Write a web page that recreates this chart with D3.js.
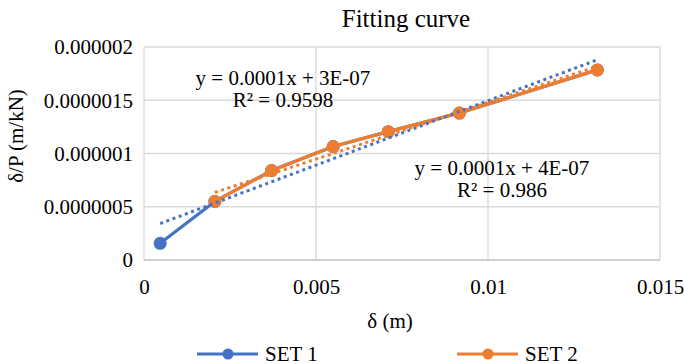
<!DOCTYPE html>
<html>
<head>
<meta charset="utf-8">
<script src="https://cdn.jsdelivr.net/npm/d3@7/dist/d3.min.js"></script>
<style>
  html, body { margin: 0; padding: 0; background: #fff; }
  svg { display: block; }
  svg text { font-family: "Liberation Serif", "Times New Roman", Tinos, "DejaVu Serif", serif !important; }
</style>
</head>
<body>
<svg id="chart" width="684" height="364"></svg>
<script>
// ---- data ----
const set1X = [0.00047, 0.00206, 0.00371, 0.0055, 0.0071, 0.00917, 0.01318];
const set1Y = [1.57e-7, 5.5e-7, 8.4e-7, 1.065e-6, 1.205e-6, 1.38e-6, 1.785e-6];
const set2X = [0.00206, 0.00371, 0.0055, 0.0071, 0.00917, 0.01318];
const set2Y = [5.5e-7, 8.4e-7, 1.065e-6, 1.205e-6, 1.38e-6, 1.785e-6];
const seriesNames = ["SET 1", "SET 2"];
const xTicks = [0, 0.005, 0.01, 0.015];
const xTickLabels = ["0", "0.005", "0.01", "0.015"];
const yTicks = [0, 5e-7, 1e-6, 1.5e-6, 2e-6];
const yTickLabels = ["0", "0.0000005", "0.000001", "0.0000015", "0.000002"];
const eq1 = ["y = 0.0001x + 3E-07", "R² = 0.9598"];
const eq2 = ["y = 0.0001x + 4E-07", "R² = 0.986"];
const titleText = "Fitting curve";
const xTitle = "δ (m)";
const yTitle = "δ/P (m/kN)";

// ---- layout ----
const colors = ["#4472C4", "#ED7D31"];
const svg = d3.select("#chart");
const L = 144, R = 660, T = 47, B = 260;
const x = d3.scaleLinear().domain([0, 0.015]).range([L, R]);
const y = d3.scaleLinear().domain([0, 2e-6]).range([B, T]);

// gridlines
svg.append("g").selectAll("line").data(yTicks.slice(1)).join("line")
  .attr("x1", L).attr("x2", R).attr("y1", d => y(d)).attr("y2", d => y(d))
  .attr("stroke", "#d9d9d9").attr("stroke-width", 1.3);
svg.append("g").selectAll("line").data(xTicks).join("line")
  .attr("y1", T).attr("y2", B).attr("x1", d => x(d)).attr("x2", d => x(d))
  .attr("stroke", "#d9d9d9").attr("stroke-width", 1.3);
svg.append("line").attr("x1", L).attr("x2", R).attr("y1", B).attr("y2", B)
  .attr("stroke", "#bfbfbf").attr("stroke-width", 1.5);

// tick labels via axes
const yAxis = d3.axisLeft(y).tickValues(yTicks).tickSize(0).tickPadding(11)
  .tickFormat((d, i) => yTickLabels[i]);
const gy = svg.append("g").attr("transform", `translate(${L},0)`).call(yAxis);
gy.select(".domain").remove();
gy.selectAll("text").attr("font-size", 21).attr("fill", "#000").attr("dy", "0.33em");

const xAxis = d3.axisBottom(x).tickValues(xTicks).tickSize(0).tickPadding(19)
  .tickFormat((d, i) => xTickLabels[i]);
const gx = svg.append("g").attr("transform", `translate(0,${B})`).call(xAxis);
gx.select(".domain").remove();
gx.selectAll("text").attr("font-size", 21).attr("fill", "#000");

// series
const s1 = set1X.map((v, i) => [v, set1Y[i]]);
const s2 = set2X.map((v, i) => [v, set2Y[i]]);
const line = d3.line().x(d => x(d[0])).y(d => y(d[1]));
[s1, s2].forEach((s, k) => {
  svg.append("path").datum(s).attr("d", line).attr("fill", "none")
    .attr("stroke", colors[k]).attr("stroke-width", 3.2).attr("stroke-linejoin", "round");
  svg.append("g").selectAll("circle").data(s).join("circle")
    .attr("cx", d => x(d[0])).attr("cy", d => y(d[1])).attr("r", 6.5)
    .attr("fill", colors[k]);
});

// linear trendlines (least squares over each series)
function fit(pts) {
  const mx = d3.mean(pts, d => d[0]), my = d3.mean(pts, d => d[1]);
  const sxy = d3.sum(pts, d => (d[0] - mx) * (d[1] - my));
  const sxx = d3.sum(pts, d => (d[0] - mx) ** 2);
  const m = sxy / sxx, b = my - m * mx;
  return d3.extent(pts, d => d[0]).map(v => [v, m * v + b]);
}
[s1, s2].forEach((s, k) => {
  svg.append("path").datum(fit(s)).attr("d", line).attr("fill", "none")
    .attr("stroke", colors[k]).attr("stroke-width", 3)
    .attr("stroke-dasharray", "3 3.6");
});

// equation labels
function eqLabel(lines, cx, by) {
  lines.forEach((t, i) => {
    svg.append("text").attr("x", cx).attr("y", by + i * 22)
      .attr("text-anchor", "middle").attr("font-size", 21).text(t);
  });
}
eqLabel(eq1, 283, 85);
eqLabel(eq2, 502, 175);

// titles
svg.append("text").attr("x", 406).attr("y", 27).attr("text-anchor", "middle")
  .attr("font-size", 25).text(titleText);
svg.append("text").attr("x", 390).attr("y", 328).attr("text-anchor", "middle")
  .attr("font-size", 21).text(xTitle);
svg.append("text").attr("transform", "translate(23,136) rotate(-90)")
  .attr("text-anchor", "middle").attr("font-size", 21).text(yTitle);

// legend
const legendX = [197, 457];
seriesNames.forEach((name, k) => {
  const g = svg.append("g").attr("transform", `translate(${legendX[k]},354)`);
  g.append("line").attr("x1", 0).attr("x2", 61).attr("y1", 0).attr("y2", 0)
    .attr("stroke", colors[k]).attr("stroke-width", 3.2);
  g.append("circle").attr("cx", 31).attr("cy", 0).attr("r", 5.5).attr("fill", colors[k]);
  g.append("text").attr("x", 68).attr("y", 7).attr("font-size", 21).text(name);
});
</script>
</body>
</html>
